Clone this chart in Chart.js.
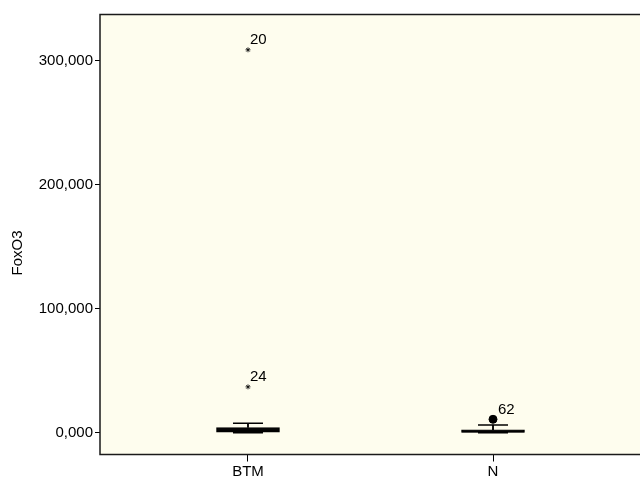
<!DOCTYPE html>
<html>
<head>
<meta charset="utf-8">
<script src="https://cdn.jsdelivr.net/npm/chart.js@4/dist/chart.umd.min.js"></script>
<style>
html,body{margin:0;padding:0;background:#ffffff;overflow:hidden;width:640px;height:478px;}
canvas{display:block;}
</style>
</head>
<body>
<canvas id="c" width="660" height="478"></canvas>
<script>
// ---- data ----
const categories = ['BTM', 'N'];
const catPos = [1, 2];
const whiskerLow = [0, 0];
const q1 = [400, 300];
const median = [2000, 1200];
const q3 = [4200, 2400];
const whiskerHigh = [7600, 6200];
const extremeCat = [1, 1];
const extremeValues = [37000, 309000];
const extremeLabels = ['24', '20'];
const outlierCat = [2];
const outlierValues = [10800];
const outlierLabels = ['62'];
const yTicks = [0, 100000, 200000, 300000];
const yTitle = 'FoxO3';

const FONT = 'Liberation Sans';

const pts = (xs, ys) => xs.map((x, i) => ({x: x, y: ys[i]}));
const rng = (xs, a, b) => xs.map((x, i) => ({x: x, y: [a[i], b[i]]}));

const framePlugin = {
  id: 'frame',
  beforeDraw(chart) {
    const {ctx, chartArea: a} = chart;
    ctx.save();
    ctx.fillStyle = '#FEFDEE';
    ctx.fillRect(a.left, a.top, a.right - a.left, a.bottom - a.top);
    ctx.restore();
  },
  afterDraw(chart) {
    const {ctx, chartArea: a} = chart;
    ctx.save();
    ctx.strokeStyle = '#1a1a1a';
    ctx.lineWidth = 1.5;
    ctx.strokeRect(a.left, a.top, a.right - a.left, a.bottom - a.top);
    // y title
    ctx.fillStyle = '#000';
    ctx.font = '15px "' + FONT + '"';
    ctx.textAlign = 'center';
    ctx.textBaseline = 'middle';
    ctx.translate(18, 253);
    ctx.rotate(-Math.PI / 2);
    ctx.fillText(yTitle, 0, 0);
    ctx.restore();
  }
};

const labelPlugin = {
  id: 'ptlabels',
  afterDatasetsDraw(chart) {
    const {ctx, scales: {x, y}} = chart;
    ctx.save();
    ctx.fillStyle = '#000';
    ctx.font = '15px "' + FONT + '"';
    ctx.textAlign = 'left';
    ctx.textBaseline = 'alphabetic';
    extremeValues.forEach((v, i) => {
      ctx.fillText(extremeLabels[i], x.getPixelForValue(extremeCat[i]) + 2, y.getPixelForValue(v) - 6);
    });
    outlierValues.forEach((v, i) => {
      ctx.fillText(outlierLabels[i], x.getPixelForValue(outlierCat[i]) + 5, y.getPixelForValue(v) - 5);
    });
    ctx.restore();
  }
};

new Chart(document.getElementById('c'), {
  type: 'bar',
  data: {
    datasets: [
      { type: 'bar', data: rng(catPos, q3, whiskerHigh), backgroundColor: '#000', borderWidth: 0, barThickness: 1.2, grouped: false, order: 5 },
      { type: 'bar', data: rng(catPos, whiskerLow, q1), backgroundColor: '#000', borderWidth: 0, barThickness: 1.2, grouped: false, order: 5 },
      { type: 'bar', data: rng(catPos, q1, q3), backgroundColor: '#1a1a1a', borderColor: '#000', borderWidth: 1.5, borderSkipped: false, barThickness: 63, grouped: false, order: 4 },
      { type: 'scatter', data: pts(catPos, whiskerHigh), pointStyle: 'line', radius: 15, borderColor: '#000', borderWidth: 1.5, order: 3 },
      { type: 'scatter', data: pts(catPos, whiskerLow), pointStyle: 'line', radius: 15, borderColor: '#000', borderWidth: 1.5, order: 3 },
      { type: 'scatter', data: pts(catPos, median), pointStyle: 'line', radius: 31, borderColor: '#000', borderWidth: 2, order: 2 },
      { type: 'scatter', data: pts(extremeCat, extremeValues), pointStyle: 'star', radius: 2.5, borderColor: '#000', borderWidth: 0.8, order: 1 },
      { type: 'scatter', data: pts(outlierCat, outlierValues), pointStyle: 'circle', radius: 4, backgroundColor: '#000', borderColor: '#000', borderWidth: 1, order: 1 }
    ]
  },
  options: {
    responsive: false,
    animation: false,
    devicePixelRatio: 1,
    layout: { autoPadding: false, padding: { left: 0, top: 14.5, right: 19, bottom: 0 } },
    plugins: { legend: { display: false }, tooltip: { enabled: false } },
    scales: {
      x: {
        type: 'linear',
        offset: false,
        min: 0.396,
        max: 2.604,
        afterFit(s) { s.height = 23.5; },
        afterBuildTicks(s) { s.ticks = catPos.map(v => ({value: v})); },
        grid: { offset: false, drawOnChartArea: false, drawTicks: true, tickLength: 7, color: '#000', lineWidth: 1 },
        border: { display: false },
        ticks: { color: '#000', font: { family: FONT, size: 15 }, padding: 1, maxRotation: 0, autoSkip: false,
          callback: (v) => categories[catPos.indexOf(v)] }
      },
      y: {
        type: 'linear',
        min: -17600,
        max: 337500,
        afterFit(s) { s.width = 100; },
        afterBuildTicks(s) { s.ticks = yTicks.map(v => ({value: v})); },
        grid: { drawOnChartArea: false, drawTicks: true, tickLength: 5, color: '#000', lineWidth: 1 },
        border: { display: false },
        ticks: { color: '#000', font: { family: FONT, size: 15 }, padding: 2,
          callback: (v) => (v / 1000).toFixed(3).replace('.', ',') }
      }
    }
  },
  plugins: [framePlugin, labelPlugin]
});
</script>
</body>
</html>
